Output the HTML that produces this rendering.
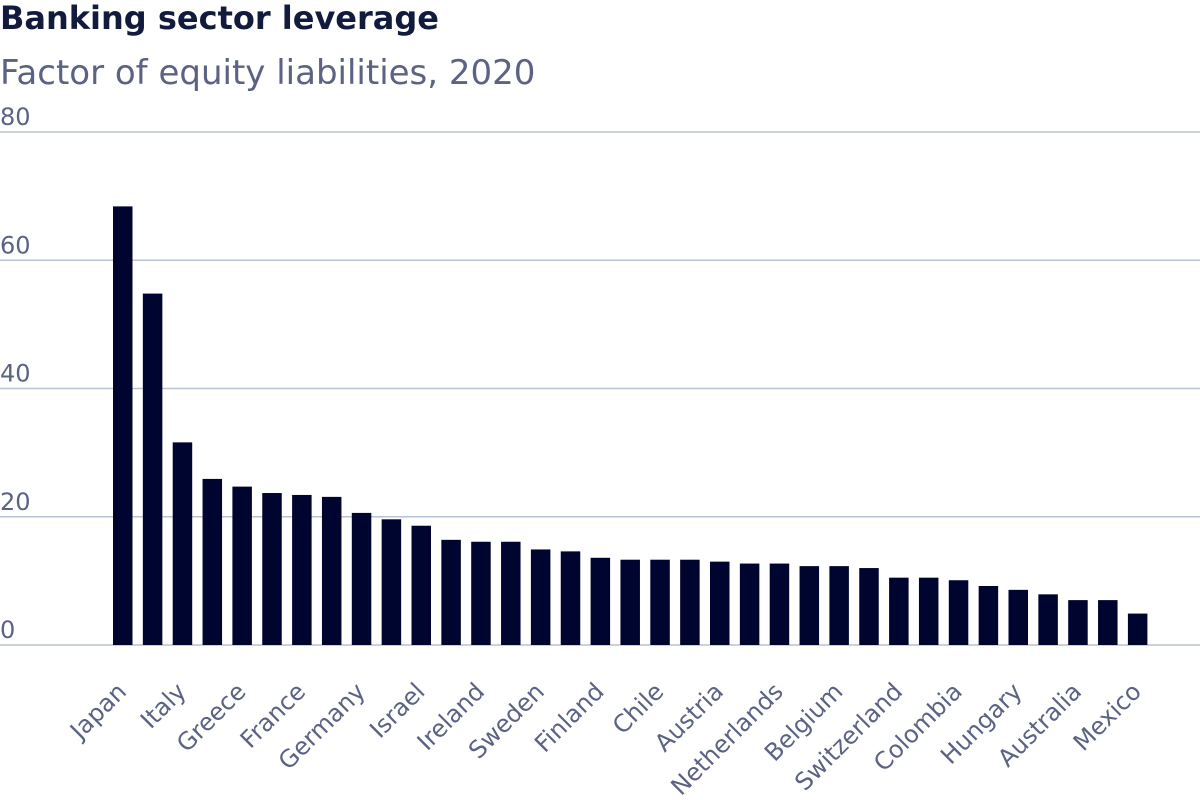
<!DOCTYPE html>
<html><head><meta charset="utf-8"><style>
html,body{margin:0;padding:0;background:#fff;}
svg{display:block;font-family:"DejaVu Sans","Liberation Sans",sans-serif;}
</style></head><body>
<svg id="chart" width="1200" height="800">
<text x="0" y="29" font-size="32" font-weight="bold" fill="#131b3d">Banking sector leverage</text>
<text x="0" y="84" font-size="34" fill="#5b6283">Factor of equity liabilities, 2020</text>
<g id="grid"></g><g id="bars"></g><g id="xlabels"></g>
</svg>
<script>
const categories=["Japan","Korea","Italy","Portugal","Greece","Spain","France","Slovenia","Germany","Denmark","Israel","Luxembourg","Ireland","Norway","Sweden","United Kingdom","Finland","Canada","Chile","Poland","Austria","Latvia","Netherlands","New Zealand","Belgium","Lithuania","Switzerland","Iceland","Colombia","Czech Republic","Hungary","Estonia","Australia","United States","Mexico"];
const values=[68.4,54.8,31.6,25.9,24.7,23.7,23.4,23.1,20.6,19.6,18.6,16.4,16.1,16.1,14.9,14.6,13.6,13.3,13.3,13.3,13.0,12.7,12.7,12.3,12.3,12.0,10.5,10.5,10.1,9.2,8.6,7.9,7.0,7.0,4.9];
const yTicks=[0,20,40,60,80];
const NS="http://www.w3.org/2000/svg";
const y0=645,yTop=132,yMax=80;
const y=v=>y0-(v/yMax)*(y0-yTop);
const x0=113,step=29.85,bw=19.5;
const x=i=>x0+i*step;
const grid=document.getElementById('grid'),bars=document.getElementById('bars'),xl=document.getElementById('xlabels');
yTicks.forEach(t=>{
 const l=document.createElementNS(NS,'line');
 l.setAttribute('x1',0);l.setAttribute('x2',1200);l.setAttribute('y1',y(t));l.setAttribute('y2',y(t));
 l.setAttribute('stroke','#b9c2d0');l.setAttribute('stroke-width',1.5);
 
 
 grid.appendChild(l);
 const tx=document.createElementNS(NS,'text');
 tx.setAttribute('x',0);tx.setAttribute('y',y(t)-7);tx.setAttribute('font-size',24);tx.setAttribute('fill','#5b6283');
 tx.textContent=t;
 
 
 grid.appendChild(tx);
});
values.forEach((v,i)=>{
 const r=document.createElementNS(NS,'rect');
 r.setAttribute('x',x(i));r.setAttribute('y',y(v));r.setAttribute('width',bw);r.setAttribute('height',y0-y(v));
 r.setAttribute('fill','#000530');
 
 
 bars.appendChild(r);
 if(i%2===0){
  const t=document.createElementNS(NS,'text');
  const cx=x(i)+bw/2+5,cy=693;
  t.setAttribute('x',cx);t.setAttribute('y',cy);t.setAttribute('font-size',24);t.setAttribute('fill','#5b6283');
  t.setAttribute('text-anchor','end');t.setAttribute('transform','rotate(-45 '+cx+' '+cy+')');
  t.textContent=categories[i];
  
  
  xl.appendChild(t);
 }
});
</script>
</body></html>
